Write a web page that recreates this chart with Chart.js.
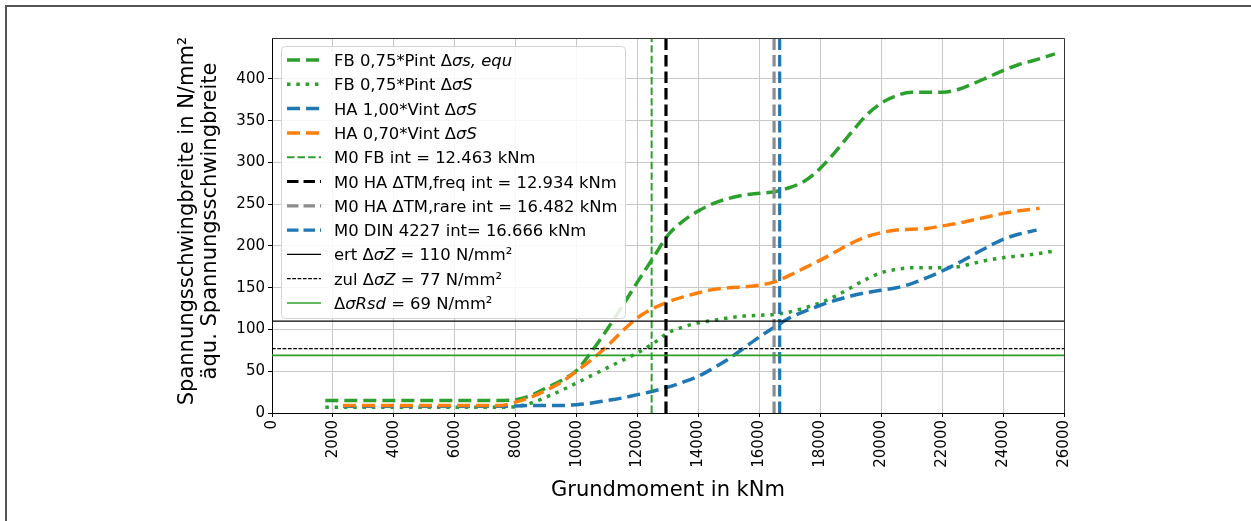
<!DOCTYPE html>
<html>
<head>
<meta charset="utf-8">
<script src="https://cdn.jsdelivr.net/npm/chart.js@4.4.1/dist/chart.umd.min.js"></script>
<style>
  html, body { margin: 0; padding: 0; background: #fff; }
  #wrap { position: relative; width: 1251px; height: 521px; }
</style>
</head>
<body>
<div id="wrap"><canvas id="c" width="1251" height="521"></canvas></div>
<script>
// ---- data -------------------------------------------------------------
// Series labels ({...} marks the italic part of the formula)
const seriesLabels = [
  'FB 0,75*Pint Δ{σs, equ}',
  'FB 0,75*Pint Δ{σS}',
  'HA 1,00*Vint Δ{σS}',
  'HA 0,70*Vint Δ{σS}',
  'M0 FB int = 12.463 kNm',
  'M0 HA ΔTM,freq int = 12.934 kNm',
  'M0 HA ΔTM,rare int = 16.482 kNm',
  'M0 DIN 4227 int= 16.666 kNm',
  'ert Δ{σZ} = 110 N/mm²',
  'zul Δ{σZ} = 77 N/mm²',
  'Δ{σRsd} = 69 N/mm²'
];

// FB 0,75*Pint Δσs,equ
const momentFbEqu = [1750, 3000, 5000, 7000, 7600, 8000, 8500, 9000, 9500, 10000, 10500, 11000, 11500, 12000, 12500, 13000, 13500, 14000, 14500, 15000, 15500, 16000, 16500, 17000, 17500, 18000, 18500, 19000, 19500, 20000, 20500, 21000, 21500, 22000, 22500, 23000, 23500, 24000, 24500, 25000, 25700];
const stressFbEqu = [15, 15, 15, 15, 15, 16, 21, 30, 39, 51, 74, 100, 128, 157, 185, 213, 230, 242, 251, 257, 261, 263, 265, 270, 278, 293, 313, 335, 356, 371, 380, 384, 384, 384, 387, 394, 402, 410, 417, 422, 430];

// FB 0,75*Pint ΔσS
const momentFbS = [1750, 4000, 6000, 7800, 8200, 8600, 9000, 9500, 10000, 10500, 11000, 11500, 12000, 12500, 13000, 13500, 14000, 14500, 15000, 15500, 16000, 16500, 17000, 17500, 18000, 18500, 19000, 19500, 20000, 20500, 21000, 21500, 22000, 22500, 23000, 23500, 24000, 24500, 25000, 25700];
const stressFbS = [7, 7, 7, 7, 9, 13, 19, 27, 36, 45, 54, 63, 72, 83, 96, 103, 108, 111, 114, 116, 117, 118, 121, 126, 132, 140, 150, 160, 168, 172, 174, 174, 174, 175, 179, 183, 186, 188, 190, 194];

// HA 1,00*Vint ΔσS
const momentHa100 = [2330, 5000, 7500, 8500, 9500, 10000, 10500, 11000, 11500, 12000, 12500, 13000, 13500, 14000, 14500, 15000, 15500, 16000, 16500, 17000, 17500, 18000, 18500, 19000, 19500, 20000, 20500, 21000, 21500, 22000, 22500, 23000, 23500, 24000, 24500, 25100];
const stressHa100 = [8, 8, 8, 9, 9, 10, 12, 15, 18, 22, 26, 31, 37, 44, 54, 65, 78, 91, 103, 114, 122, 129, 135, 140, 144, 147, 150, 155, 162, 170, 179, 189, 199, 208, 214, 219];

// HA 0,70*Vint ΔσS
const momentHa070 = [2330, 4000, 6000, 7500, 8000, 8500, 9000, 9500, 10000, 10500, 11000, 11500, 12000, 12500, 13000, 13500, 14000, 14500, 15000, 15500, 16000, 16500, 17000, 17500, 18000, 18500, 19000, 19500, 20000, 20500, 21000, 21500, 22000, 22500, 23000, 23500, 24000, 24500, 25200];
const stressHa070 = [9, 9, 9, 9, 13, 19, 27, 37, 50, 64, 80, 98, 114, 125, 133, 139, 144, 148, 150, 151, 153, 157, 165, 174, 183, 193, 203, 211, 216, 219, 220, 221, 224, 227, 231, 235, 239, 242, 245];

// Characteristic moments M0 (kNm) and stress limits (N/mm²)
const m0Moments = [12463, 12934, 16482, 16666];
const stressLimits = [110, 77, 69];

// Axis ranges and tick labels
const momentRange = [0, 26000];
const stressRange = [0, 449];
const momentTicks = [0, 2000, 4000, 6000, 8000, 10000, 12000, 14000, 16000, 18000, 20000, 22000, 24000, 26000];
const stressTicks = [0, 50, 100, 150, 200, 250, 300, 350, 400];

// ---- styles -----------------------------------------------------------
const GREEN = '#2ca02c', BLUE = '#1f77b4', ORANGE = '#ff7f0e', GREY = '#8c8c8c', BLACK = '#000000';
const curveStyles = [
  { color: GREEN,  width: 3.5, dash: [13, 6] },
  { color: GREEN,  width: 3.5, dash: [3.5, 5.8] },
  { color: BLUE,   width: 3.5, dash: [13, 6] },
  { color: ORANGE, width: 3.5, dash: [13, 6] }
];
const m0Styles = [
  { color: GREEN, width: 2,   dash: [7.4, 3.2] },
  { color: BLACK, width: 3.2, dash: [11.5, 5] },
  { color: GREY,  width: 3.2, dash: [11.5, 5] },
  { color: BLUE,  width: 3.2, dash: [11.5, 5] }
];
const limitStyles = [
  { color: BLACK, width: 1.2, dash: [] },
  { color: BLACK, width: 1.2, dash: [3.7, 1.6] },
  { color: GREEN, width: 1.6, dash: [] }
];

// ---- datasets ---------------------------------------------------------
const plain = s => s.replace(/[{}]/g, '');
const pts = (xs, ys) => xs.map((x, i) => ({ x, y: ys[i] }));

const curveData = [
  pts(momentFbEqu, stressFbEqu),
  pts(momentFbS, stressFbS),
  pts(momentHa100, stressHa100),
  pts(momentHa070, stressHa070)
];

const datasets = [];
curveData.forEach((d, i) => datasets.push({ data: d, style: curveStyles[i], smooth: true }));
m0Moments.forEach((m, i) => datasets.push({
  data: [{ x: m, y: stressRange[0] }, { x: m, y: stressRange[1] }], style: m0Styles[i], smooth: false }));
stressLimits.forEach((s, i) => datasets.push({
  data: [{ x: momentRange[0], y: s }, { x: momentRange[1], y: s }], style: limitStyles[i], smooth: false }));

const chartDatasets = datasets.map((d, i) => ({
  label: plain(seriesLabels[i]),
  richLabel: seriesLabels[i],
  data: d.data,
  borderColor: d.style.color,
  backgroundColor: d.style.color,
  borderWidth: d.style.width,
  borderDash: d.style.dash,
  borderCapStyle: 'butt',
  pointRadius: 0,
  fill: false,
  tension: d.smooth ? 0.4 : 0,
  cubicInterpolationMode: d.smooth ? 'monotone' : 'default',
  order: 100 - i
}));

// ---- drawing helpers --------------------------------------------------
const FONT = '"DejaVu Sans", "Liberation Sans", sans-serif';

function drawRich(ctx, text, x, y, size) {
  const parts = text.split(/(\{[^}]*\})/);
  for (const p of parts) {
    if (!p) continue;
    const it = p.startsWith('{');
    const s = it ? p.slice(1, -1) : p;
    ctx.font = (it ? 'italic ' : '') + size + 'px ' + FONT;
    ctx.fillText(s, x, y);
    x += ctx.measureText(s).width;
  }
}

const decor = {
  id: 'decor',
  afterDraw(chart) {
    const ctx = chart.ctx;
    const a = chart.chartArea;
    ctx.save();

    // top and right spines
    ctx.strokeStyle = '#333';
    ctx.lineWidth = 1;
    ctx.setLineDash([]);
    ctx.beginPath();
    ctx.moveTo(a.left, a.top + 0.5);
    ctx.lineTo(a.right + 0.5, a.top + 0.5);
    ctx.lineTo(a.right + 0.5, a.bottom);
    ctx.stroke();

    // figure frame
    ctx.strokeStyle = '#555';
    ctx.lineWidth = 2;
    ctx.beginPath();
    ctx.moveTo(6, chart.height);
    ctx.lineTo(6, 6);
    ctx.lineTo(chart.width, 6);
    ctx.stroke();

    // legend
    const lx = 281, ly = 46, lw = 344, lh = 272;
    ctx.fillStyle = 'rgba(255,255,255,0.85)';
    ctx.strokeStyle = '#d5d5d5';
    ctx.lineWidth = 1;
    ctx.beginPath();
    ctx.roundRect(lx + 0.5, ly + 0.5, lw, lh, 4);
    ctx.fill();
    ctx.stroke();

    const rowH = 24.3, fs = 16.4;
    chart.data.datasets.forEach((ds, i) => {
      const yy = 60 + rowH * i;
      ctx.strokeStyle = ds.borderColor;
      ctx.lineWidth = ds.borderWidth;
      ctx.setLineDash(ds.borderDash);
      ctx.lineCap = 'butt';
      ctx.beginPath();
      ctx.moveTo(287, yy);
      ctx.lineTo(321, yy);
      ctx.stroke();
      ctx.setLineDash([]);
      ctx.fillStyle = '#000';
      ctx.textBaseline = 'alphabetic';
      ctx.textAlign = 'left';
      drawRich(ctx, ds.richLabel, 334, yy + 6, fs);
    });

    // axis titles
    ctx.fillStyle = '#000';
    ctx.textAlign = 'center';
    ctx.textBaseline = 'middle';
    ctx.font = '21px ' + FONT;
    ctx.fillText('Grundmoment in kNm', (a.left + a.right) / 2, 491);

    ctx.save();
    ctx.translate(188, 221);
    ctx.rotate(-Math.PI / 2);
    ctx.fillText('Spannungsschwingbreite in N/mm²', 0, 0);
    ctx.restore();
    ctx.save();
    ctx.translate(211, 221);
    ctx.rotate(-Math.PI / 2);
    ctx.fillText('äqu. Spannungsschwingbreite', 0, 0);
    ctx.restore();

    ctx.restore();
  }
};

Chart.defaults.font.family = FONT;
Chart.defaults.color = '#000';

new Chart(document.getElementById('c'), {
  type: 'line',
  data: { datasets: chartDatasets },
  plugins: [decor],
  options: {
    responsive: false,
    animation: false,
    devicePixelRatio: 1,
    layout: { padding: { left: 0, top: 38, right: 187, bottom: 0 } },
    plugins: { legend: { display: false }, tooltip: { enabled: false } },
    scales: {
      x: {
        type: 'linear',
        min: momentRange[0],
        max: momentRange[1],
        afterBuildTicks(scale) { scale.ticks = momentTicks.map(v => ({ value: v })); },
        ticks: { maxRotation: 90, minRotation: 90, font: { size: 15 }, color: '#000', padding: 3, autoSkip: false,
                 callback: v => String(v) },
        grid: { color: '#c8c8c8', lineWidth: 1, tickLength: 4, tickColor: '#000' },
        border: { color: '#000', width: 1 },
        afterFit(scale) { scale.height = 108; }
      },
      y: {
        type: 'linear',
        min: stressRange[0],
        max: stressRange[1],
        afterBuildTicks(scale) { scale.ticks = stressTicks.map(v => ({ value: v })); },
        ticks: { font: { size: 15 }, color: '#000', padding: 3, callback: v => String(v) },
        grid: { color: '#c8c8c8', lineWidth: 1, tickLength: 4, tickColor: '#000' },
        border: { color: '#000', width: 1 },
        afterFit(scale) { scale.width = 272; }
      }
    }
  }
});
</script>
</body>
</html>
